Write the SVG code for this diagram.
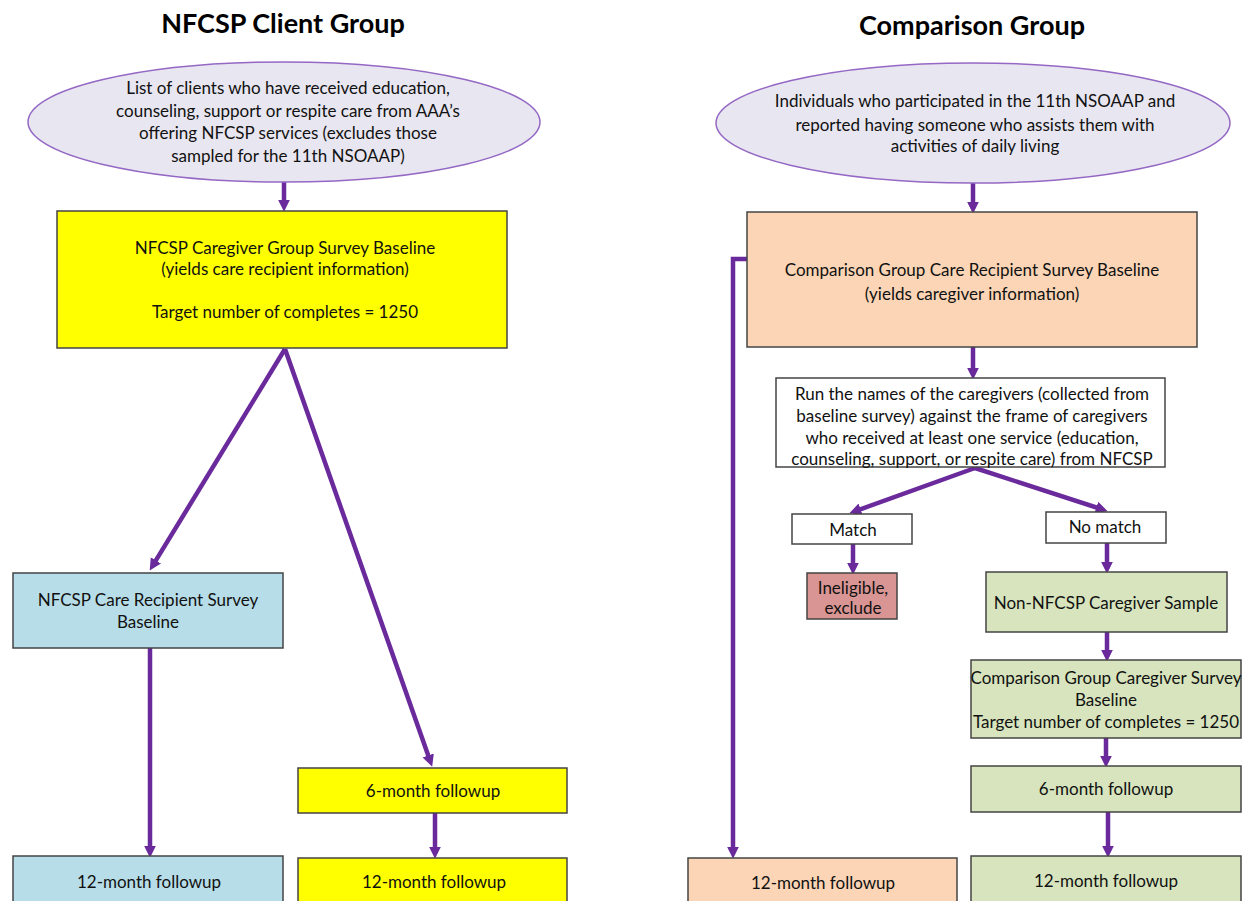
<svg xmlns="http://www.w3.org/2000/svg" width="1247" height="901" viewBox="0 0 1247 901">
<defs>
<style>
.t{font-family:Lato,"Liberation Sans",sans-serif;font-size:17px;fill:#111;text-anchor:middle}
.h{font-family:Lato,"Liberation Sans",sans-serif;font-size:27px;font-weight:bold;fill:#000;text-anchor:middle}
.box{stroke:#444;stroke-width:1.5}
.ell{fill:#e8e6f0;stroke:#9468c4;stroke-width:1.5}
.c{stroke:#6a2a9c;stroke-width:4.5;fill:none;marker-end:url(#ah)}
</style>
<marker id="ah" markerUnits="userSpaceOnUse" markerWidth="13" markerHeight="13" viewBox="0 0 12 12" refX="3" refY="6" orient="auto">
<path d="M0,0.5 L11,6 L0,11.5 z" fill="#6a2a9c"/>
</marker>
</defs>
<rect width="1247" height="901" fill="#fff"/>
<text class="h" x="283" y="33">NFCSP Client Group</text>
<text class="h" x="972" y="35">Comparison Group</text>

<g id="connectors">
<line class="c" x1="284" y1="182" x2="284" y2="203"/>
<line class="c" x1="285" y1="349" x2="154.2" y2="563.2"/>
<line class="c" x1="285" y1="349" x2="429.3" y2="758.5"/>
<line class="c" x1="150" y1="648" x2="150" y2="849"/>
<line class="c" x1="435" y1="813" x2="435" y2="850"/>
<line class="c" x1="973" y1="183" x2="973" y2="205"/>
<polyline class="c" points="747,259 733,259 733,850"/>
<line class="c" x1="973" y1="347" x2="973" y2="371"/>
<line class="c" x1="975" y1="468" x2="857.5" y2="510.3"/>
<line class="c" x1="975" y1="468" x2="1099.4" y2="508.5"/>
<line class="c" x1="853" y1="544" x2="853" y2="566"/>
<line class="c" x1="1107" y1="543" x2="1107" y2="565"/>
<line class="c" x1="1107" y1="632" x2="1107" y2="653"/>
<line class="c" x1="1106" y1="738" x2="1106" y2="759"/>
<line class="c" x1="1108" y1="812" x2="1108" y2="849"/>
</g>

<g id="clients-list">
<ellipse class="ell" cx="284" cy="122" rx="256" ry="60"/>
<text class="t" x="288" y="94">List of clients who have received education,</text>
<text class="t" x="288" y="117">counseling, support or respite care from AAA’s</text>
<text class="t" x="288" y="139">offering NFCSP services (excludes those</text>
<text class="t" x="288" y="162">sampled for the 11th NSOAAP)</text>
</g>
<g id="caregiver-baseline">
<rect class="box" x="57" y="211" width="450" height="137" fill="#ffff00"/>
<text class="t" x="285" y="254">NFCSP Caregiver Group Survey Baseline</text>
<text class="t" x="285" y="275">(yields care recipient information)</text>
<text class="t" x="285" y="318">Target number of completes = 1250</text>
</g>
<g id="recipient-baseline">
<rect class="box" x="13" y="573" width="270" height="75" fill="#b7dde8"/>
<text class="t" x="148" y="606">NFCSP Care Recipient Survey</text>
<text class="t" x="148" y="628">Baseline</text>
</g>
<g id="recipient-12">
<rect class="box" x="13" y="856" width="270" height="50" fill="#b7dde8"/>
<text class="t" x="149" y="888">12-month followup</text>
</g>
<g id="caregiver-6">
<rect class="box" x="298" y="768" width="269" height="45" fill="#ffff00"/>
<text class="t" x="433" y="797">6-month followup</text>
</g>
<g id="caregiver-12">
<rect class="box" x="298" y="858" width="269" height="48" fill="#ffff00"/>
<text class="t" x="434" y="888">12-month followup</text>
</g>

<g id="nsoaap-individuals">
<ellipse class="ell" cx="973" cy="123" rx="257" ry="60"/>
<text class="t" x="975" y="107">Individuals who participated in the 11th NSOAAP and</text>
<text class="t" x="975" y="131">reported having someone who assists them with</text>
<text class="t" x="975" y="152">activities of daily living</text>
</g>
<g id="comparison-recipient-baseline">
<rect class="box" x="747" y="212" width="450" height="135" fill="#fbd5b5"/>
<text class="t" x="972" y="276">Comparison Group Care Recipient Survey Baseline</text>
<text class="t" x="972" y="300">(yields caregiver information)</text>
</g>
<g id="comparison-recipient-12">
<rect class="box" x="688" y="858" width="269" height="48" fill="#fbd5b5"/>
<text class="t" x="823" y="889">12-month followup</text>
</g>
<g id="run-names">
<rect class="box" x="776" y="378" width="389" height="89" fill="#fff"/>
<text class="t" x="972" y="400">Run the names of the caregivers (collected from</text>
<text class="t" x="972" y="422">baseline survey) against the frame of caregivers</text>
<text class="t" x="972" y="444">who received at least one service (education,</text>
<text class="t" x="972" y="465">counseling, support, or respite care) from NFCSP</text>
</g>
<g id="match">
<rect class="box" x="792" y="514" width="120" height="30" fill="#fff"/>
<text class="t" x="853" y="536">Match</text>
</g>
<g id="no-match">
<rect class="box" x="1046" y="512" width="120" height="31" fill="#fff"/>
<text class="t" x="1105" y="533">No match</text>
</g>
<g id="ineligible">
<rect class="box" x="807" y="573" width="90" height="46" fill="#d99594"/>
<text class="t" x="853" y="594">Ineligible,</text>
<text class="t" x="853" y="614">exclude</text>
</g>
<g id="non-nfcsp-sample">
<rect class="box" x="986" y="572" width="241" height="60" fill="#d7e4bd"/>
<text class="t" x="1106" y="609">Non-NFCSP Caregiver Sample</text>
</g>
<g id="comparison-caregiver-baseline">
<rect class="box" x="971" y="660" width="270" height="78" fill="#d7e4bd"/>
<text class="t" x="1106" y="684">Comparison Group Caregiver Survey</text>
<text class="t" x="1106" y="706">Baseline</text>
<text class="t" x="1106" y="728">Target number of completes = 1250</text>
</g>
<g id="comparison-caregiver-6">
<rect class="box" x="971" y="766" width="270" height="46" fill="#d7e4bd"/>
<text class="t" x="1106" y="795">6-month followup</text>
</g>
<g id="comparison-caregiver-12">
<rect class="box" x="971" y="856" width="270" height="50" fill="#d7e4bd"/>
<text class="t" x="1106" y="887">12-month followup</text>
</g>
</svg>
